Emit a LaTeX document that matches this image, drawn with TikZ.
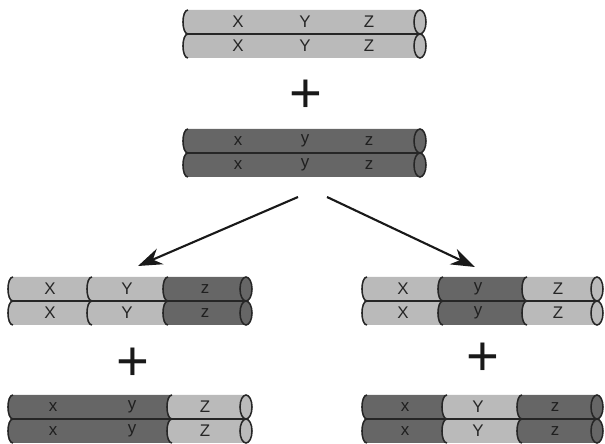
\documentclass[tikz,border=0pt]{standalone}
\usepackage{fontspec}
\setsansfont{Liberation Sans}
\usetikzlibrary{arrows.meta}

\tikzset{
  light/.style={fill=black!27},
  dark/.style={fill=black!60},
  rim/.style={draw=black!85, line width=1.1pt},
  gene/.style={font=\sffamily\fontsize{12}{12}\selectfont, text=black!85, inner sep=0pt},
  darkgene/.style={gene, text=black!88},
  plus/.style={font=\sffamily\fontsize{40}{40}\selectfont, text=black!90, inner sep=0pt},
  split/.style={draw=black!90, line width=1.5pt, -{Stealth[length=0.6cm, width=0.42cm]}}
}

% one band of both chromatids: left edge, fill end, centre y, colour
\newcommand{\chromseg}[4]{%
  \fill[#4] (#1+5,#3-24) .. controls (#1-1.7,#3-24) and (#1-1.7,#3) .. (#1+5,#3) -- (#2,#3) -- (#2,#3-24) -- cycle;
  \fill[#4] (#1+5,#3) .. controls (#1-1.7,#3) and (#1-1.7,#3+24) .. (#1+5,#3+24) -- (#2,#3+24) -- (#2,#3) -- cycle;
  \draw[rim] (#1+5,#3-24) .. controls (#1-1.7,#3-24) and (#1-1.7,#3) .. (#1+5,#3);
  \draw[rim] (#1+5,#3) .. controls (#1-1.7,#3) and (#1-1.7,#3+24) .. (#1+5,#3+24);}
% end caps and the seam between the chromatids: left edge, cap x, centre y, colour
\newcommand{\chromend}[4]{%
  \draw[rim, #4] (#2,#3-12) ellipse [x radius=0.15cm, y radius=0.3cm];
  \draw[rim, #4] (#2,#3+12) ellipse [x radius=0.15cm, y radius=0.3cm];
  \draw[rim] (#1+5,#3) -- (#2,#3);}
% one gene on both chromatids: name, x, centre y, letter, style
\newcommand{\genes}[5]{%
  \node[#5] (#1t) at (#2,#3-12) {#4};
  \node[#5] (#1b) at (#2,#3+12) {#4};}

\begin{document}
\begin{tikzpicture}[x=0.025cm, y=-0.025cm]
\useasboundingbox (0,0) rectangle (605,444);

% parents
\chromseg{183}{420}{34}{light} \chromend{183}{420}{34}{light}
\genes{pX}{238}{34}{X}{gene} \genes{pY}{305}{34}{Y}{gene} \genes{pZ}{369}{34}{Z}{gene}
\node[plus] (plusTop) at (306,96) {+};
\chromseg{183}{420}{153}{dark} \chromend{183}{420}{153}{dark}
\genes{qx}{238}{153}{x}{darkgene} \genes{qy}{305}{153}{y}{darkgene} \genes{qz}{369}{153}{z}{darkgene}

% crossing over
\coordinate (forkL) at (298,197); \coordinate (forkR) at (327,197);
\coordinate (recL) at (138,266); \coordinate (recR) at (475,267);
\draw[split] (forkL) -- (recL);
\draw[split] (forkR) -- (recR);

% left offspring
\chromseg{8}{92}{301}{light} \chromseg{87}{168}{301}{light} \chromseg{163}{246}{301}{dark} \chromend{8}{246}{301}{dark}
\genes{lX}{50}{301}{X}{gene} \genes{lY}{127}{301}{Y}{gene} \genes{lz}{205}{301}{z}{darkgene}
\node[plus] (plusL) at (133,364) {+};
\chromseg{8}{172}{419}{dark} \chromseg{167}{246}{419}{light} \chromend{8}{246}{419}{light}
\genes{mx}{53}{419}{x}{darkgene} \genes{my}{132}{419}{y}{darkgene} \genes{mZ}{205}{419}{Z}{gene}

% right offspring
\chromseg{362}{443}{301}{light} \chromseg{438}{527}{301}{dark} \chromseg{522}{597}{301}{light} \chromend{362}{597}{301}{light}
\genes{rX}{403}{301}{X}{gene} \genes{ry}{478}{301}{y}{darkgene} \genes{rZ}{558}{301}{Z}{gene}
\node[plus] (plusR) at (483,359) {+};
\chromseg{362}{447}{419}{dark} \chromseg{442}{522}{419}{light} \chromseg{517}{597}{419}{dark} \chromend{362}{597}{419}{dark}
\genes{sx}{405}{419}{x}{darkgene} \genes{sY}{478}{419}{Y}{gene} \genes{sz}{555}{419}{z}{darkgene}
\end{tikzpicture}
\end{document}
